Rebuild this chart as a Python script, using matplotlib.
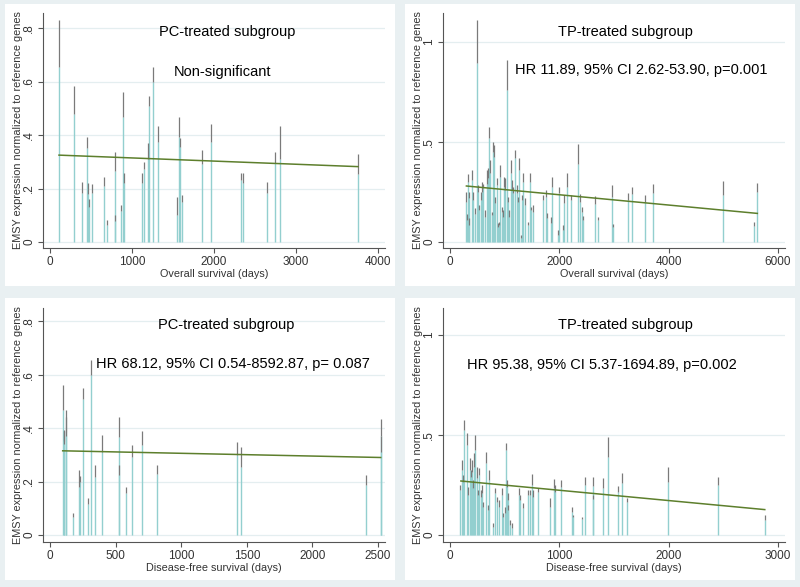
import matplotlib
matplotlib.use('Agg')
import matplotlib.pyplot as plt
from matplotlib.patches import Rectangle

plt.rcParams['font.family'] = ['Liberation Sans', 'DejaVu Sans']

# top left: PC-treated, overall survival  (days, lower, upper)
pc_os_days = [110, 289, 390, 447, 465, 475, 512, 658, 691, 793, 797, 866, 886, 902, 1118, 1142,
              1195, 1202, 1260, 1321, 1553, 1577, 1588, 1606, 1850, 1963, 2325, 2354, 2642, 2748,
              2805, 3756]
pc_os_lo = [.655, .477, .184, .35, .18, .132, .184, .21, .065, .08, .265, .116, .466, .22, .222, .275,
            .31, .51, .6, .373, .1, .394, .356, .15, .29, .373, .232, .222, .184, .295, .31, .253]
pc_os_hi = [.83, .584, .226, .394, .222, .16, .217, .242, .082, .103, .338, .138, .56, .26, .26, .30,
            .37, .547, .653, .435, .167, .466, .388, .175, .346, .44, .259, .259, .224, .336, .434, .329]
pc_os_fit_x = [110, 3756]
pc_os_fit_y = [0.325, 0.282]

# top right: TP-treated, overall survival
tp_os_days = [287, 305, 335, 340, 353, 408, 427, 450, 488, 506, 536, 561, 591, 610, 640, 671, 689,
              713, 732, 762, 780, 805, 829, 853, 872, 890, 914, 945, 963, 994, 1012, 1036, 1061,
              1085, 1110, 1134, 1158, 1189, 1219, 1238, 1268, 1293, 1323, 1341, 1372, 1433, 1463,
              1482, 1512, 1695, 1756, 1780, 1847, 1872, 1975, 1994, 2073, 2091, 2134, 2213, 2347,
              2378, 2408, 2439, 2652, 2701, 2963, 2987, 3262, 3335, 3573, 3713, 5000, 5561, 5622]
tp_os_lo = [.20, .11, .30, .22, .085, .31, .21, .14, .895, .25, .16, .21, .25, .27, .127, .29, .32,
            .518, .343, .135, .45, .427, .193, .285, .077, .085, .327, .15, .127, .277, .26, .76, .202,
            .127, .343, .26, .243, .418, .243, .202, .36, .018, .21, .30, .185, .085, .30,
            .16, .152, .21, .227, .118, .093, .277, .035, .243, .06, .193, .277, .21, .39,
            .2, .152, .11, .19, .11, .227, .077, .21, .238, .2, .247, .235, .08, .25]
tp_os_hi = [.25, .14, .34, .25, .12, .36, .25, .17, 1.11, .285, .185, .25, .30, .29, .16, .36, .37,
            .577, .41, .15, .50, .485, .227, .318, .093, .1, .385, .177, .16, .327, .318, .91, .227,
            .16, .41, .31, .277, .46, .285, .227, .418, .035, .235, .343, .218, .1, .343,
            .177, .185, .235, .26, .143, .127, .327, .06, .277, .085, .235, .343, .235, .49,
            .24, .177, .13, .23, .127, .285, .09, .243, .273, .235, .29, .307, .102, .293]
tp_os_fit_x = [300, 5622]
tp_os_fit_y = [0.28, 0.143]

# bottom left: PC-treated, disease-free survival
pc_dfs_days = [97, 105, 110, 122, 125, 178, 224, 228, 249, 287, 310, 346, 394, 523, 528, 577, 622,
               704, 813, 1423, 1458, 2408, 2520, 2520]
pc_dfs_lo = [.467, .35, .34, .386, .37, .069, .18, .2, .51, .116, .598, .218, .31, .367, .224, .156,
             .293, .336, .23, .3, .255, .187, .37, .31]
pc_dfs_hi = [.56, .393, .39, .467, .44, .081, .243, .22, .548, .137, .654, .262, .374, .442, .262,
             .178, .336, .39, .262, .349, .33, .224, .435, .37]
pc_dfs_fit_x = [97, 2520]
pc_dfs_fit_y = [0.315, 0.29]

# bottom right: TP-treated, disease-free survival
tp_dfs_days = [91, 113, 122, 131, 153, 168, 183, 192, 204, 213, 223, 232, 244, 253, 265, 280, 296,
               305, 326, 351, 360, 396, 412, 427, 445, 473, 488, 503, 512, 518, 527, 534, 549, 564,
               631, 640, 665, 717, 732, 753, 762, 802, 915, 952, 961, 1013, 1113, 1128, 1205, 1235,
               1305, 1310, 1403, 1449, 1540, 1577, 1616, 1990, 2450, 2880]
tp_dfs_lo = [.225, .325, .267, .525, .45, .2, .325, .292, .317, .233, .342, .425, .283, .2, .3, .192,
             .208, .142, .358, .125, .275, .042, .208, .167, .142, .2, .092, .108, .425, .242, .125,
             .175, .05, .033, .2, .175, .133, .2, .2, .25, .192, .217, .142, .233, .217, .242, .117,
             .088, .078, .25, .245, .18, .233, .392, .217, .258, .167, .267, .25, .075]
tp_dfs_hi = [.25, .375, .3, .575, .508, .24, .383, .325, .375, .275, .408, .5, .342, .225, .333, .225,
             .25, .167, .417, .15, .325, .058, .233, .192, .175, .233, .108, .142, .458, .275, .15,
             .208, .075, .058, .233, .2, .158, .225, .225, .305, .225, .233, .183, .28, .25, .275, .138,
             .1, .092, .292, .288, .2, .283, .492, .247, .308, .183, .342, .292, .1]
tp_dfs_fit_x = [100, 2880]
tp_dfs_fit_y = [0.27, 0.127]

W, H = 800, 587
fig = plt.figure(figsize=(W / 100, H / 100), dpi=100)
fig.patch.set_facecolor('#e9f0f2')

# white graph regions
for x0, y0 in [(5, 4), (405, 4), (5, 298), (405, 298)]:
    fig.patches.append(Rectangle((x0 / W, 1 - (y0 + 282) / H), 390 / W, 282 / H,
                                 transform=fig.transFigure, facecolor='white', edgecolor='none', zorder=-5))

spike_col = '#93cfcf'
bar_col = '#7a7a7a'
fit_col = '#5d7f2c'


def panel(rect, days, lo, hi, fit_x, fit_y, xlim, ylim, xticks, yticks, ylabs, xlabel, texts):
    ax = fig.add_axes(rect)
    ax.set_zorder(1)
    ax.set_facecolor('white')
    for t in yticks:
        ax.axhline(t, color='#e4eef0', lw=0.9, zorder=0)
    ax.vlines(days, 0, lo, color=spike_col, lw=1.0, zorder=2)
    ax.vlines(days, lo, hi, color=bar_col, lw=0.9, zorder=3)
    ax.plot(fit_x, fit_y, color=fit_col, lw=1.1, zorder=4)
    ax.set_xlim(xlim)
    ax.set_ylim(ylim)
    ax.set_xticks(xticks)
    ax.set_xticklabels([str(v) for v in xticks], fontsize=8.5, color='#333333')
    ax.set_yticks(yticks)
    ax.set_yticklabels(ylabs, fontsize=8.5, color='#333333', rotation=90, va='center')
    ax.set_xlabel(xlabel, fontsize=7.8, color='#333333', labelpad=1)
    ax.set_ylabel('EMSY expression normalized to reference genes', fontsize=7.8, color='#333333', labelpad=0)
    ax.spines['top'].set_visible(False)
    ax.spines['right'].set_visible(False)
    for s in ['left', 'bottom']:
        ax.spines[s].set_color('#555555')
        ax.spines[s].set_linewidth(0.8)
    ax.tick_params(length=3.5, width=0.8, color='#555555', pad=2)
    for tx, ty, s in texts:
        ax.text(tx, ty, s, ha='center', va='center', fontsize=10.5, color='black')
    return ax


aw = 342 / W
panel([43 / W, (H - 248) / H, aw, 235 / H], pc_os_days, pc_os_lo, pc_os_hi, pc_os_fit_x, pc_os_fit_y,
      (-85, 4085), (-0.022, 0.856), [0, 1000, 2000, 3000, 4000], [0, .2, .4, .6, .8],
      ['0', '.2', '.4', '.6', '.8'], 'Overall survival (days)',
      [(2158, 0.785, 'PC-treated subgroup'), (2100, 0.636, 'Non-significant')])

panel([443 / W, (H - 248) / H, aw, 235 / H], tp_os_days, tp_os_lo, tp_os_hi, tp_os_fit_x, tp_os_fit_y,
      (-128, 6128), (-0.03, 1.145), [0, 2000, 4000, 6000], [0, .5, 1],
      ['0', '.5', '1'], 'Overall survival (days)',
      [(3201, 1.05, 'TP-treated subgroup'), (3500, 0.86, 'HR 11.89, 95% CI 2.62-53.90, p=0.001')])

panel([43 / W, (H - 542) / H, aw, 234 / H], pc_dfs_days, pc_dfs_lo, pc_dfs_hi, pc_dfs_fit_x, pc_dfs_fit_y,
      (-53, 2553), (-0.026, 0.849), [0, 500, 1000, 1500, 2000, 2500], [0, .2, .4, .6, .8],
      ['0', '.2', '.4', '.6', '.8'], 'Disease-free survival (days)',
      [(1341, 0.785, 'PC-treated subgroup'), (1395, 0.639, 'HR 68.12, 95% CI 0.54-8592.87, p= 0.087')])

panel([443 / W, (H - 542) / H, aw, 234 / H], tp_dfs_days, tp_dfs_lo, tp_dfs_hi, tp_dfs_fit_x, tp_dfs_fit_y,
      (-64, 3065), (-0.035, 1.135), [0, 1000, 2000, 3000], [0, .5, 1],
      ['0', '.5', '1'], 'Disease-free survival (days)',
      [(1601, 1.05, 'TP-treated subgroup'), (1392, 0.85, 'HR 95.38, 95% CI 5.37-1694.89, p=0.002')])

plt.savefig('out.png', dpi=100, facecolor=fig.get_facecolor())
